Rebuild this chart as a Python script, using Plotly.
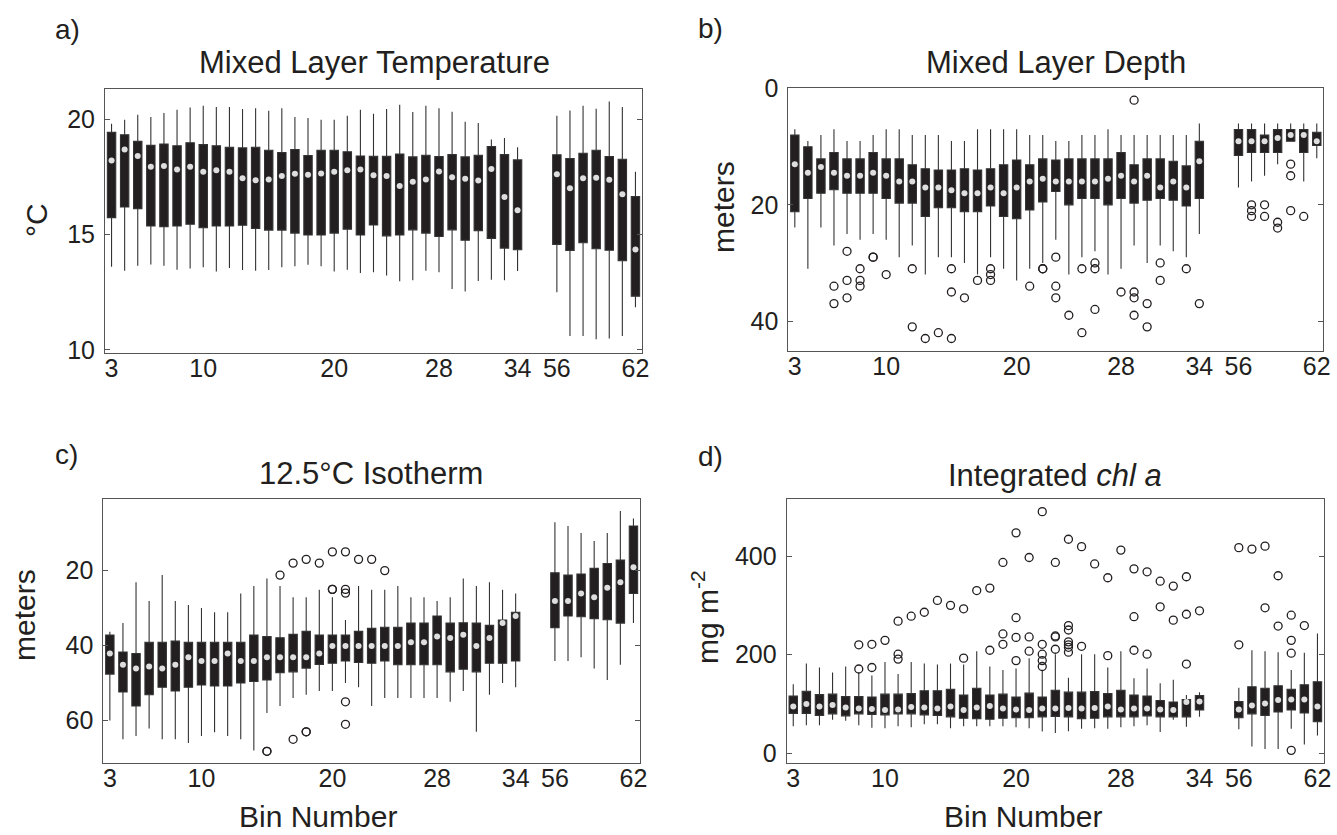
import plotly.graph_objects as go

W, H = 1337, 835
INK = "#231f20"
FRAME = "#555555"
FONT = "Liberation Sans, Arial, Helvetica, sans-serif"

# ---------------- categories ----------------
bins = list(range(3, 35)) + list(range(56, 63))
tick_bins = [3, 10, 20, 28, 34, 56, 62]
tick_labels = ["3", "10", "20", "28", "34", "56", "62"]

# ---------------- a) Mixed Layer Temperature (deg C) ----------------
mlt_wlo = [13.6, 13.43, 13.65, 13.7, 13.65, 13.47, 13.53, 13.58, 13.4, 13.55, 13.46, 13.43, 13.46, 13.58, 13.62, 13.69,
           13.62, 13.4, 13.47, 13.33, 13.36, 13.22, 12.97, 13.02, 13.43, 13.36, 12.64, 12.53, 12.99, 13.04, 13.02, 13.42,
           12.5, 10.6, 10.6, 10.46, 10.49, 10.6, 11.85]
mlt_q1 = [15.73, 16.19, 16.12, 15.37, 15.34, 15.37, 15.44, 15.29, 15.37, 15.37, 15.4, 15.26, 15.19, 15.19, 15.06, 14.98,
          14.98, 15.06, 15.23, 14.98, 15.41, 14.94, 14.98, 15.2, 15.06, 14.91, 15.2, 14.75, 15.16, 14.83, 14.41, 14.34,
          14.57, 14.31, 14.64, 14.38, 14.32, 13.86, 12.33]
mlt_med = [18.2, 18.68, 18.4, 17.93, 17.96, 17.81, 17.93, 17.72, 17.78, 17.72, 17.43, 17.35, 17.38, 17.53, 17.63, 17.59,
           17.64, 17.72, 17.78, 17.81, 17.56, 17.53, 17.1, 17.28, 17.38, 17.73, 17.48, 17.41, 17.34, 17.84, 16.62, 16.05,
           17.61, 17.0, 17.44, 17.46, 17.37, 16.74, 14.35]
mlt_q3 = [19.42, 19.32, 19.03, 18.86, 18.92, 18.84, 18.97, 18.89, 18.84, 18.78, 18.75, 18.78, 18.65, 18.55, 18.68, 18.42,
          18.65, 18.65, 18.58, 18.4, 18.39, 18.39, 18.48, 18.36, 18.43, 18.38, 18.46, 18.36, 18.43, 18.81, 18.46, 18.23,
          18.45, 18.29, 18.52, 18.65, 18.38, 18.26, 16.64]
mlt_whi = [19.8, 19.97, 20.19, 20.09, 20.26, 20.4, 20.5, 20.57, 20.52, 20.52, 20.43, 20.47, 20.36, 20.47, 20.09, 20.04,
           19.97, 19.97, 20.14, 20.4, 20.23, 20.43, 20.62, 20.3, 20.57, 20.47, 20.31, 19.88, 19.83, 19.11, 19.18, 18.78,
           20.14, 20.37, 20.57, 20.44, 20.76, 20.52, 17.72]
mlt_out_bins = []
mlt_out_vals = []

# ---------------- b) Mixed Layer Depth (m) ----------------
mld_wlo = [7, 9, 8, 7, 9, 9, 8, 7, 7, 8, 8, 8, 9, 9, 7, 7, 7, 7, 8, 8, 9, 9, 8, 8, 7, 8, 8, 8, 8, 8, 8, 6,
           6, 6, 6, 6, 6, 6, 6]
mld_q1 = [8.0, 10.0, 12.1, 11.0, 12.1, 12.1, 11.0, 12.1, 12.1, 13.1, 13.8, 14.0, 14.0, 13.8, 14.0, 13.8,
          13.1, 12.3, 13.1, 12.1, 12.3, 12.1, 12.1, 12.1, 12.1, 11.0, 13.1, 12.1, 12.1, 12.5, 13.3, 9.05,
          7.05, 7.05, 8.0, 7.05, 7.05, 7.05, 7.5]
mld_med = [13.0, 14.5, 13.5, 14.5, 15.0, 15.0, 14.5, 15.0, 16.0, 16.0, 17.0, 17.0, 17.5, 18.0, 18.0, 17.0,
           18.0, 17.0, 16.0, 15.5, 16.0, 16.0, 16.0, 16.0, 15.5, 15.0, 16.0, 15.0, 17.0, 16.0, 17.0, 12.5,
           9.05, 9.05, 9.05, 8.5, 8.0, 8.0, 9.05]
mld_q3 = [21.2, 18.9, 18.0, 17.4, 18.0, 18.0, 18.0, 18.9, 19.7, 19.7, 22.0, 20.5, 20.5, 21.2, 21.2, 20.2,
          22.0, 22.4, 20.9, 19.5, 17.7, 20.0, 18.9, 18.9, 20.0, 18.9, 19.7, 19.2, 18.9, 19.2, 20.2, 18.9,
          11.5, 11.0, 11.0, 11.0, 9.05, 11.0, 9.8]
mld_whi = [23.9, 31.0, 23.9, 27.0, 25.0, 26.0, 25.0, 26.0, 29.0, 27.0, 32.0, 29.0, 29.0, 30.0, 32.0, 29.0,
           31.0, 33.0, 31.0, 30.0, 26.0, 32.0, 29.0, 28.0, 32.0, 31.0, 27.0, 30.0, 27.0, 28.0, 29.0, 25.0,
           17.0, 16.0, 15.0, 13.0, 9.05, 16.0, 12.0]
mld_out_bins = [6, 6, 7, 7, 7, 8, 8, 8, 9, 9, 10, 12, 12, 13, 14, 15, 15, 15, 16, 17, 18, 18, 18, 21, 22, 22,
                23, 23, 23, 24, 25, 25, 26, 26, 26, 28, 29, 29, 29, 29, 30, 30, 31, 31, 33, 34,
                57, 57, 57, 58, 58, 59, 59, 60, 60, 60, 61]
mld_out_vals = [37, 34, 28, 33, 36, 31, 33, 34, 29, 29, 32, 31, 41, 43, 42, 31, 35, 43, 36, 33, 31, 32, 33, 34, 31, 31,
                29, 34, 36, 39, 31, 42, 30, 31, 38, 35, 2, 35, 36, 39, 37, 41, 30, 33, 31, 37,
                20, 21, 22, 20, 22, 23, 24, 13, 15, 21, 22]

# ---------------- c) 12.5 deg C Isotherm (m) ----------------
iso_wlo = [36.3, 34.0, 23.1, 28.1, 21.2, 28.1, 29.2, 30.0, 31.1, 31.1, 26.1, 24.1, 22.1, 24.1, 27.1, 27.1,
           25.1, 27.1, 33.2, 24.1, 25.1, 25.1, 24.1, 27.1, 27.1, 28.1, 27.1, 22.1, 24.1, 23.1, 25.1, 26.1,
           7.1, 8.1, 10.0, 12.1, 10.0, 4.1, 6.1]
iso_q1 = [37.2, 41.7, 42.1, 39.1, 39.1, 38.8, 39.1, 39.1, 39.1, 39.1, 39.1, 37.2, 37.6, 37.9, 37.0, 36.2,
          37.2, 37.2, 37.2, 36.2, 35.4, 35.1, 35.1, 34.0, 34.0, 32.1, 34.0, 33.9, 34.0, 34.6, 33.2, 31.1,
          20.6, 21.2, 20.9, 19.4, 18.1, 17.2, 8.1]
iso_med = [42.1, 45.1, 46.1, 45.6, 46.1, 45.1, 43.1, 44.1, 44.1, 42.1, 44.1, 44.1, 43.1, 43.1, 43.1, 43.1,
           42.1, 40.1, 40.1, 40.1, 40.1, 40.1, 40.1, 39.1, 39.1, 37.6, 38.0, 37.1, 40.1, 38.0, 34.0, 32.1,
           28.1, 28.1, 26.1, 27.1, 24.6, 23.1, 19.1]
iso_q3 = [47.6, 52.4, 56.1, 53.1, 51.1, 52.1, 51.1, 50.5, 50.8, 50.8, 50.0, 49.6, 49.2, 47.2, 47.0, 46.0,
          45.0, 44.7, 44.1, 44.5, 44.7, 44.1, 45.1, 45.1, 45.1, 45.1, 47.0, 46.3, 47.0, 44.7, 44.7, 44.1,
          35.2, 32.1, 32.3, 32.8, 33.1, 34.0, 26.1]
iso_whi = [60.0, 65.0, 64.1, 62.1, 65.0, 65.0, 66.0, 64.1, 63.1, 64.1, 65.0, 68.0, 58.0, 56.1, 54.0, 53.1,
           52.1, 52.1, 50.0, 51.1, 56.1, 54.0, 54.0, 54.0, 54.0, 54.0, 55.0, 52.1, 63.0, 53.1, 50.0, 51.1,
           44.1, 44.1, 43.1, 46.1, 49.2, 45.1, 34.0]
iso_out_bins = [15, 15, 16, 17, 17, 18, 18, 18, 19, 20, 20, 20, 21, 21, 21, 21, 21, 22, 23, 24]
iso_out_vals = [68.2, 68.2, 21.2, 18, 65, 17, 63, 63, 18, 15, 25, 25, 15, 25, 26, 55, 61, 17, 17, 20]

# ---------------- d) Integrated chl a (mg m-2) ----------------
chl_wlo = [55, 57, 57, 68, 66, 57, 52, 51, 55, 53, 59, 59, 51, 55, 55, 55, 55, 53, 51, 44, 41, 45, 50, 51,
           50, 53, 55, 57, 43, 68, 54, 74,
           49, 14, 9, 9, 50, 18, 36]
chl_q1 = [81, 81, 77, 80, 76, 80, 79, 78, 80, 80, 78, 77, 74, 71, 70, 69, 71, 72, 72, 74, 75, 74, 70, 71,
          74, 74, 74, 76, 74, 74, 74, 88,
          72, 80, 77, 84, 88, 82, 64]
chl_med = [95, 100, 95, 98, 93, 91, 90, 88, 89, 94, 93, 91, 95, 88, 93, 96, 91, 89, 88, 91, 91, 92, 91, 92,
           95, 89, 91, 91, 89, 88, 104, 105,
           89, 97, 101, 108, 109, 109, 95]
chl_q3 = [116, 126, 119, 120, 115, 115, 114, 120, 120, 121, 127, 127, 130, 118, 132, 118, 120, 114, 122, 114,
          128, 124, 124, 125, 121, 128, 118, 116, 107, 104, 109, 117,
          105, 135, 132, 137, 130, 139, 145]
chl_whi = [140, 182, 174, 164, 176, 164, 158, 185, 161, 185, 182, 180, 182, 180, 207, 176, 169, 172, 193, 169,
           201, 153, 201, 201, 174, 207, 152, 172, 142, 149, 118, 124,
           133, 209, 207, 205, 169, 204, 243]
chl_out_bins = [8, 8, 9, 9, 10, 11, 11, 11, 12, 13, 14, 15, 16, 16, 17, 18, 18, 19, 19, 19, 20, 20, 20, 20,
                21, 21, 21, 22, 22, 22, 22, 22, 23, 23, 23, 23, 24, 24, 24, 24, 24, 24, 24, 25, 25, 26,
                27, 27, 28, 29, 29, 29, 30, 30, 31, 31, 32, 32, 33, 33, 33, 34,
                56, 56, 57, 58, 58, 59, 59, 60, 60, 60, 60, 61]
chl_out_vals = [220, 171, 221, 174, 229, 268, 201, 191, 278, 286, 310, 300, 293, 193, 330, 335, 209, 387, 242, 221,
                447, 275, 235, 188, 397, 236, 207, 490, 221, 201, 188, 176, 387, 236, 238, 211,
                434, 259, 250, 226, 220, 215, 205, 419, 217, 384,
                356, 198, 412, 374, 277, 209, 368, 201, 349, 297, 339, 270, 358, 282, 181, 289,
                417, 220, 414, 420, 295, 360, 258, 280, 229, 203, 6, 259]


def pos(b):
    return b - 3 if b <= 34 else b - 22


xpos = [pos(b) for b in bins]
tick_pos = [pos(b) for b in tick_bins]

fig = go.Figure()

panels = [
    ("", mlt_wlo, mlt_q1, mlt_med, mlt_q3, mlt_whi, mlt_out_bins, mlt_out_vals),
    ("2", mld_wlo, mld_q1, mld_med, mld_q3, mld_whi, mld_out_bins, mld_out_vals),
    ("3", iso_wlo, iso_q1, iso_med, iso_q3, iso_whi, iso_out_bins, iso_out_vals),
    ("4", chl_wlo, chl_q1, chl_med, chl_q3, chl_whi, chl_out_bins, chl_out_vals),
]

for sfx, wlo, q1, med, q3, whi, ob, ov in panels:
    xa, ya = "x" + sfx, "y" + sfx
    fig.add_trace(go.Box(
        x=xpos, q1=q1, median=med, q3=q3, lowerfence=wlo, upperfence=whi,
        width=0.64, whiskerwidth=0, fillcolor=INK,
        line=dict(color="#333333", width=1.1), boxpoints=False,
        xaxis=xa, yaxis=ya, hoverinfo="skip", showlegend=False))
    fig.add_trace(go.Scatter(
        x=xpos, y=med, mode="markers",
        marker=dict(color="#dedede", size=6, line=dict(width=0)),
        xaxis=xa, yaxis=ya, hoverinfo="skip", showlegend=False))
    if ob:
        fig.add_trace(go.Scatter(
            x=[pos(b) for b in ob], y=ov, mode="markers",
            marker=dict(symbol="circle-open", size=8, color=INK, line=dict(width=1.3, color=INK)),
            xaxis=xa, yaxis=ya, hoverinfo="skip", showlegend=False))


def dx(l, r):
    return [l / W, r / W]


def dy(t, b):
    return [1 - b / H, 1 - t / H]


boxes = {
    "": (dx(105, 642), dy(89, 352.7), [9.88, 21.3], [10, 15, 20]),
    "2": (dx(788.3, 1323.3), dy(88.3, 350.7), [45.1, -0.05], [0, 20, 40]),
    "3": (dx(103.3, 640), dy(499, 763.3), [71.4, 0.9], [20, 40, 60]),
    "4": (dx(786.7, 1324), dy(499.3, 762.7), [-19, 515], [0, 200, 400]),
}

tickfont = dict(family=FONT, size=25, color=INK)
lay = {}
for sfx, (xd, yd, yr, yt) in boxes.items():
    lay["xaxis" + sfx] = dict(
        domain=xd, range=[-0.5, 40.5], anchor="y" + sfx, tickmode="array",
        tickvals=tick_pos, ticktext=tick_labels, ticks="", showgrid=False, zeroline=False,
        showline=True, mirror=True, linecolor=FRAME, linewidth=1, tickfont=tickfont,
        ticklabelstandoff=-7, automargin=False, fixedrange=True)
    lay["yaxis" + sfx] = dict(
        domain=yd, range=yr, anchor="x" + sfx, tickmode="array", tickvals=yt,
        ticks="inside", ticklen=5, tickcolor=FRAME, tickwidth=1, showgrid=False, zeroline=False,
        showline=True, mirror="ticks", linecolor=FRAME, linewidth=1, tickfont=tickfont,
        ticklabelstandoff=4, automargin=False, fixedrange=True)

ann = []


def text(t, x, y, size=30, angle=0):
    ann.append(dict(text=t, x=x / W, y=1 - y / H, xref="paper", yref="paper",
                    xanchor="center", yanchor="middle", showarrow=False, textangle=angle,
                    font=dict(family=FONT, size=size, color=INK)))


text("a)", 67, 30, 28)
text("b)", 710, 28, 28)
text("c)", 66, 455, 28)
text("d)", 710, 456, 28)
text("Mixed Layer Temperature", 375, 63, 31)
text("Mixed Layer Depth", 1056, 63, 31)
text("12.5°C Isotherm", 371, 473, 31)
text("Integrated <i>chl a</i>", 1055, 476, 31)
text("°C", 36, 220, 30, -90)
text("meters", 723, 207, 30, -90)
text("meters", 24, 615, 30, -90)
text("mg m<sup>-2</sup>", 705, 617, 30, -90)
text("Bin Number", 318, 816, 30)
text("Bin Number", 1023, 816, 30)

fig.update_layout(
    template="none",
    width=W, height=H, autosize=False, margin=dict(l=0, r=0, t=0, b=0, pad=0),
    paper_bgcolor="white", plot_bgcolor="white", showlegend=False,
    annotations=ann, font=dict(family=FONT, color=INK), **lay)

fig.write_html(
    "out.html",
    config={"displayModeBar": False, "responsive": False},
    post_script="document.body.style.margin='0px';document.body.style.overflow='hidden';",
)
